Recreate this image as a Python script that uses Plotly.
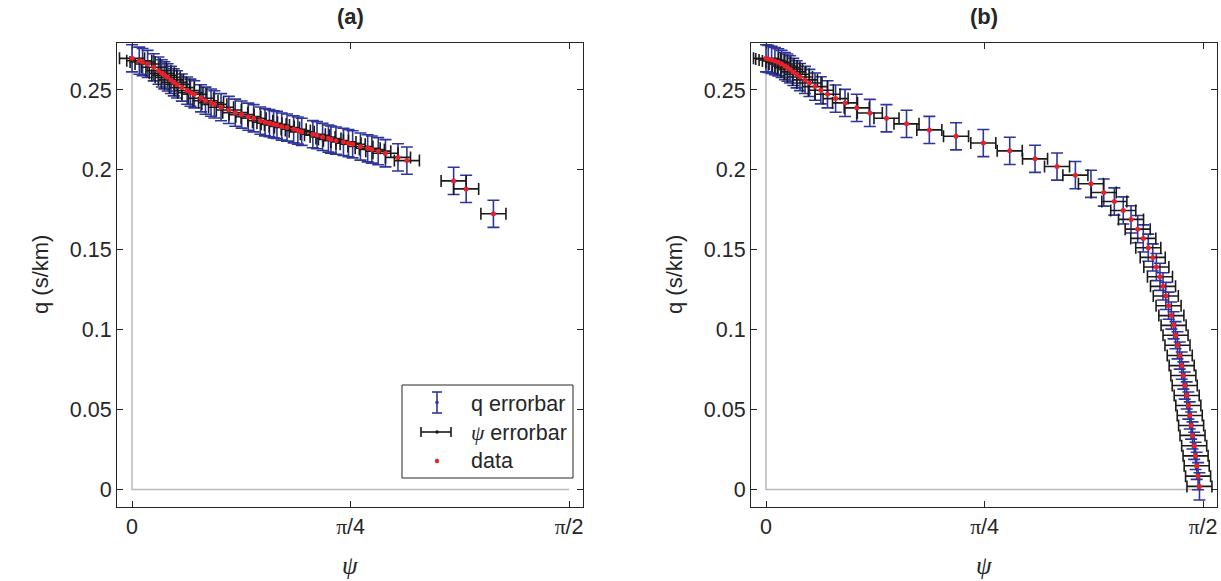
import math
import plotly.graph_objects as go

# ---------------- data ----------------
psi_a = [0, 0.026, 0.038, 0.056, 0.078, 0.095, 0.107, 0.116, 0.128, 0.140, 0.150, 0.162, 0.179,
         0.198, 0.210, 0.224, 0.248, 0.264, 0.284, 0.296, 0.320, 0.348, 0.371, 0.394, 0.418,
         0.437, 0.461, 0.478, 0.494, 0.509, 0.521, 0.538, 0.557, 0.581, 0.596, 0.610, 0.650,
         0.665, 0.685, 0.706, 0.715, 0.733, 0.760, 0.778, 0.793, 0.821, 0.847, 0.862, 0.885,
         0.911, 0.956, 0.988, 1.156, 1.201, 1.299]
q_a = [0.2698, 0.2683, 0.2675, 0.2663, 0.2642, 0.2621, 0.2604, 0.2592, 0.2579, 0.2563, 0.2548,
       0.2535, 0.2515, 0.2496, 0.2483, 0.2473, 0.2448, 0.2433, 0.2421, 0.2410, 0.2392, 0.2375,
       0.2358, 0.2346, 0.2333, 0.2323, 0.2308, 0.2298, 0.2292, 0.2285, 0.2281, 0.2271, 0.2265,
       0.2254, 0.2246, 0.2238, 0.2223, 0.2217, 0.2206, 0.2196, 0.2190, 0.2183, 0.2175, 0.2167,
       0.2160, 0.2146, 0.2135, 0.2127, 0.2117, 0.2104, 0.2078, 0.2058, 0.1931, 0.1881, 0.1725]

psi_b = [0, 0.008, 0.020, 0.032, 0.044, 0.056, 0.068, 0.077, 0.086, 0.098, 0.110, 0.122, 0.140,
         0.156, 0.176, 0.197, 0.221, 0.250, 0.284, 0.326, 0.373, 0.433, 0.505, 0.587, 0.683,
         0.781, 0.876, 0.967, 1.046, 1.112, 1.168, 1.214, 1.252, 1.284, 1.312, 1.336, 1.356,
         1.374, 1.390, 1.403, 1.416, 1.427, 1.437, 1.447, 1.457, 1.465, 1.472, 1.479, 1.487,
         1.494, 1.500, 1.505, 1.512, 1.518, 1.523, 1.528, 1.533, 1.539, 1.544, 1.548, 1.553, 1.558]
q_b = [0.2698, 0.2694, 0.2688, 0.2681, 0.2673, 0.2663, 0.2650, 0.2640, 0.2629, 0.2613, 0.2598,
       0.2581, 0.2563, 0.2544, 0.2521, 0.2498, 0.2473, 0.2446, 0.2419, 0.2388, 0.2356, 0.2323,
       0.2288, 0.2250, 0.2210, 0.2168, 0.2119, 0.2069, 0.2021, 0.1967, 0.1913, 0.1858, 0.1802,
       0.1746, 0.1690, 0.1629, 0.1571, 0.1513, 0.1452, 0.1392, 0.1331, 0.1271, 0.1211, 0.1150,
       0.1088, 0.1027, 0.0965, 0.0902, 0.0838, 0.0775, 0.0713, 0.0650, 0.0588, 0.0525, 0.0463,
       0.0400, 0.0338, 0.0273, 0.0210, 0.0148, 0.0083, 0.0019]

q_err = 0.0085      # half-width of q error bars (s/km)
psi_err = 0.045     # half-width of psi error bars (rad)

# grey reference lines (psi=0 and q=0)
ref_psi = [0, 0, math.pi / 2]
ref_q = [0.30, 0, 0]

x_tickvals = [0, math.pi / 4, math.pi / 2]
x_ticktext = ["0",
              "<span style='font-family:Liberation Serif'>π</span>/4",
              "<span style='font-family:Liberation Serif'>π</span>/2"]
y_tickvals = [0, 0.05, 0.1, 0.15, 0.2, 0.25]
y_ticktext = ["0", "0.05", "0.1", "0.15", "0.2", "0.25"]

# ---------------- style ----------------
W, H = 1221, 581
BLUE = "#2f3599"
BLACK = "#1a1a1a"
RED = "#e8202a"
GREY = "#b8b8b8"
TXT = "#262626"
SANS = "Liberation Sans, Arial, sans-serif"
SERIF = "Liberation Serif, Times New Roman, serif"
FS = 21.5

def px(x):
    return x / W

def py(y):
    return 1 - y / H

dom_a = [px(117), px(583)]
dom_b = [px(751), px(1217)]
dom_y = [py(507), py(43)]
xr = [-0.054, 1.621]
yr = [-0.011, 0.2794]

fig = go.Figure()

def add_panel(psi, q, xa, ya):
    fig.add_trace(go.Scatter(x=ref_psi, y=ref_q, mode="lines", xaxis=xa, yaxis=ya,
                             line=dict(color=GREY, width=1.5), showlegend=False, hoverinfo="skip"))
    fig.add_trace(go.Scatter(x=psi, y=q, mode="markers", xaxis=xa, yaxis=ya,
                             marker=dict(color=BLUE, size=3),
                             error_y=dict(type="constant", value=q_err, color=BLUE,
                                          thickness=1.6, width=6),
                             showlegend=False))
    fig.add_trace(go.Scatter(x=psi, y=q, mode="markers", xaxis=xa, yaxis=ya,
                             marker=dict(color=BLACK, size=3),
                             error_x=dict(type="constant", value=psi_err, color=BLACK,
                                          thickness=1.6, width=6),
                             showlegend=False))
    fig.add_trace(go.Scatter(x=psi, y=q, mode="markers", xaxis=xa, yaxis=ya,
                             marker=dict(color=RED, size=5),
                             showlegend=False))

add_panel(psi_a, q_a, "x", "y")
add_panel(psi_b, q_b, "x2", "y2")

axis_common = dict(showline=True, linecolor=TXT, linewidth=1, mirror="ticks",
                   ticks="inside", ticklen=6, tickcolor=TXT, tickwidth=1,
                   showgrid=False, zeroline=False,
                   tickfont=dict(family=SANS, size=FS, color=TXT))

fig.update_layout(
    width=W, height=H,
    margin=dict(l=0, r=0, t=0, b=0),
    paper_bgcolor="white", plot_bgcolor="white",
    showlegend=False,
    xaxis=dict(domain=dom_a, range=xr, tickvals=x_tickvals, ticktext=x_ticktext,
               anchor="y", **axis_common),
    yaxis=dict(domain=dom_y, range=yr, tickvals=y_tickvals, ticktext=y_ticktext,
               anchor="x", **axis_common),
    xaxis2=dict(domain=dom_b, range=xr, tickvals=x_tickvals, ticktext=x_ticktext,
                anchor="y2", **axis_common),
    yaxis2=dict(domain=dom_y, range=yr, tickvals=y_tickvals, ticktext=y_ticktext,
                anchor="x2", **axis_common),
)

def note(x, y, text, font, xanchor="center", angle=0):
    return dict(x=x, y=y, xref="paper", yref="paper", showarrow=False, text=text,
                xanchor=xanchor, yanchor="middle", textangle=angle, font=font)

ann = []
for dom, lab in ((dom_a, "(a)"), (dom_b, "(b)")):
    cx = (dom[0] + dom[1]) / 2
    ann.append(note(cx, py(16), "<b>" + lab + "</b>", dict(family=SANS, size=22, color=TXT)))
    ann.append(note(cx, py(565), "<i>ψ</i>", dict(family=SERIF, size=25, color=TXT)))
    ann.append(note(dom[0] - (77 / W), py(275), "q (s/km)",
                    dict(family=SANS, size=22, color=TXT), angle=-90))

# legend (panel a) drawn manually
shapes = []
shapes.append(dict(type="rect", xref="paper", yref="paper", x0=px(402), x1=px(573),
                   y0=py(478), y1=py(385), line=dict(color=TXT, width=1), fillcolor="white",
                   layer="above"))
ix = 437
shapes.append(dict(type="line", xref="paper", yref="paper", x0=px(ix), x1=px(ix),
                   y0=py(392), y1=py(413), line=dict(color=BLUE, width=1.6), layer="above"))
for yy in (392, 413):
    shapes.append(dict(type="line", xref="paper", yref="paper", x0=px(ix - 5), x1=px(ix + 5),
                       y0=py(yy), y1=py(yy), line=dict(color=BLUE, width=1.6), layer="above"))
shapes.append(dict(type="line", xref="paper", yref="paper", x0=px(421), x1=px(451),
                   y0=py(432), y1=py(432), line=dict(color=BLACK, width=1.6), layer="above"))
for xx in (421, 451):
    shapes.append(dict(type="line", xref="paper", yref="paper", x0=px(xx), x1=px(xx),
                       y0=py(427), y1=py(437), line=dict(color=BLACK, width=1.6), layer="above"))
for (xx, yy, col, r) in ((ix, 402.5, BLUE, 1.8), (ix, 432, BLACK, 1.8), (ix, 461, RED, 2.2)):
    shapes.append(dict(type="circle", xref="paper", yref="paper", x0=px(xx - r), x1=px(xx + r),
                       y0=py(yy + r), y1=py(yy - r), fillcolor=col, line=dict(width=0),
                       layer="above"))

for yy, t in ((404, "q errorbar"),
              (433, "<span style='font-family:Liberation Serif'><i>ψ</i></span> errorbar"),
              (461, "data")):
    ann.append(note(px(469), py(yy), t, dict(family=SANS, size=FS, color=TXT), xanchor="left"))

fig.update_layout(annotations=ann, shapes=shapes)
fig.write_html("out.html", config={"displayModeBar": False},
               post_script="document.body.style.margin='0';document.body.style.padding='0';")
